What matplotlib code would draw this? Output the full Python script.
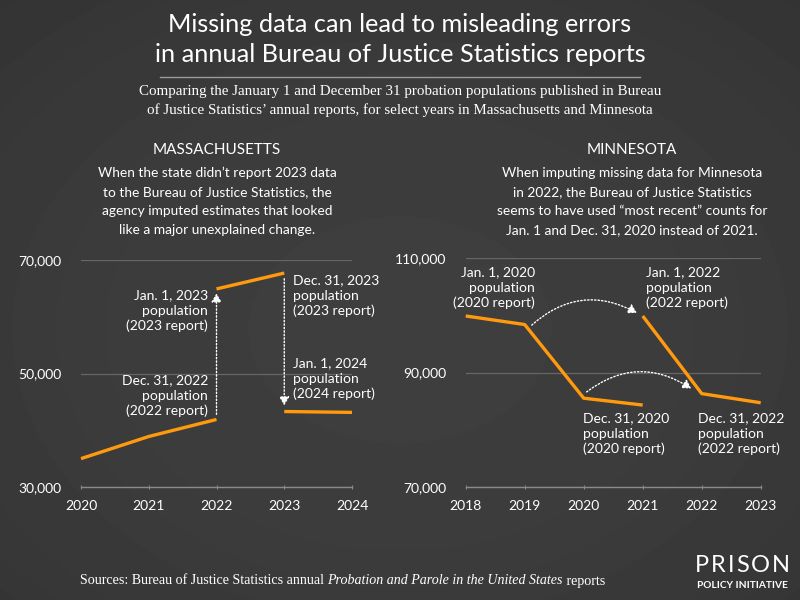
import numpy as np
import matplotlib
matplotlib.use("Agg")
import matplotlib.pyplot as plt
from matplotlib.patches import FancyArrowPatch

# ---------------- data ----------------
ma_years_a = [2020, 2021, 2022]
ma_vals_a = [35000, 38900, 41900]
ma_years_b = [2022, 2023]
ma_vals_b = [64900, 67700]
ma_years_c = [2023, 2024]
ma_vals_c = [43300, 43150]

mn_years_a = [2018, 2019, 2020, 2021]
mn_vals_a = [99900, 98400, 85500, 84300]
mn_years_b = [2021, 2022, 2023]
mn_vals_b = [99900, 86300, 84700]

ma_yticks = [30000, 50000, 70000]
mn_yticks = [70000, 90000, 110000]
ma_xticks = [2020, 2021, 2022, 2023, 2024]
mn_xticks = [2018, 2019, 2020, 2021, 2022, 2023]

ORANGE = "#FF9A0E"
FONT = "Lato"
SERIF = "Liberation Serif"
W, H = 800, 600

fig = plt.figure(figsize=(8, 6), dpi=100)

# background radial gradient
bg = fig.add_axes([0, 0, 1, 1])
yy, xx = np.mgrid[0:1:300j, 0:1:400j]
r2 = ((xx - 0.5) / 0.8) ** 2 + ((yy - 0.45) / 0.8) ** 2
shade = 0.245 - 0.05 * np.clip(r2, 0, 1)
bg.imshow(shade, cmap="gray", vmin=0, vmax=1, extent=[0, 1, 0, 1], aspect="auto", origin="lower")
bg.set_axis_off()


def px(x, y):
    return x / W, 1 - y / H


def ftext(x, y, s, **kw):
    kw.setdefault("color", "white")
    kw.setdefault("family", FONT)
    return fig.text(*px(x, y), s, **kw)


# title
ftext(400, 24, "Missing data can lead to misleading errors", ha="center", va="center", fontsize=18.2)
ftext(400, 54, "in annual Bureau of Justice Statistics reports", ha="center", va="center", fontsize=18.2)
fig.add_artist(plt.Line2D([160 / W, 640 / W], [1 - 77 / H, 1 - 77 / H], color="#9a9a9a", lw=1))
ftext(400, 92, "Comparing the January 1 and December 31 probation populations published in Bureau",
      ha="center", va="center", fontsize=10.8, family=SERIF)
ftext(400, 110, "of Justice Statistics\u2019 annual reports, for select years in Massachusetts and Minnesota",
      ha="center", va="center", fontsize=10.8, family=SERIF)

# section headers
ftext(217, 150, "MASSACHUSETTS", ha="center", va="center", fontsize=11)
ftext(632, 150, "MINNESOTA", ha="center", va="center", fontsize=11)
ma_desc = ["When the state didn\u2019t report 2023 data", "to the Bureau of Justice Statistics, the",
           "agency imputed estimates that looked", "like a major unexplained change."]
mn_desc = ["When imputing missing data for Minnesota", "in 2022, the Bureau of Justice Statistics",
           "seems to have used \u201cmost recent\u201d counts for", "Jan. 1 and Dec. 31, 2020 instead of 2021."]
for i, (a, b) in enumerate(zip(ma_desc, mn_desc)):
    ftext(217, 173 + 19 * i, a, ha="center", va="center", fontsize=9.9)
    ftext(632, 173 + 19 * i, b, ha="center", va="center", fontsize=9.9)


def style_axes(ax, xticks, yticks):
    ax.set_facecolor("none")
    for s in ["top", "right", "left"]:
        ax.spines[s].set_visible(False)
    ax.spines["bottom"].set_color("#8a8a8a")
    ax.spines["bottom"].set_linewidth(1)
    ax.set_xticks(xticks)
    ax.set_xticklabels([str(x) for x in xticks])
    ax.set_yticks(yticks)
    ax.set_yticklabels([f"{v:,}" for v in yticks])
    ax.tick_params(axis="x", colors="#8a8a8a", labelcolor="white", length=3, direction="inout",
                   pad=8, labelsize=10)
    ax.tick_params(axis="y", length=0, labelcolor="white", pad=14, labelsize=10)
    for lab in ax.get_xticklabels() + ax.get_yticklabels():
        lab.set_family(FONT)
    ax.grid(axis="y", color="#666666", lw=0.9)
    ax.set_axisbelow(True)


# Massachusetts
ax1 = fig.add_axes([81 / W, 1 - 487 / H, 271 / W, 227 / H])
ax1.set_xlim(2020, 2024)
ax1.set_ylim(30000, 70000)
style_axes(ax1, ma_xticks, ma_yticks)
for xs, ys in [(ma_years_a, ma_vals_a), (ma_years_b, ma_vals_b), (ma_years_c, ma_vals_c)]:
    ax1.plot(xs, ys, color=ORANGE, lw=2.4, solid_capstyle="butt", clip_on=False, zorder=3)

arrow_kw = dict(arrowstyle="-|>,head_length=5,head_width=3", color="white", lw=1,
                linestyle=(0, (1, 1.5)), mutation_scale=1, shrinkA=0, shrinkB=0)
ax1.add_patch(FancyArrowPatch((2022, ma_vals_a[-1] + 900), (2022, ma_vals_b[0] - 800), **arrow_kw))
ax1.add_patch(FancyArrowPatch((2023, ma_vals_b[-1] - 1000), (2023, ma_vals_c[0] + 1100), **arrow_kw))

lab_kw = dict(fontsize=10, linespacing=1.3)
ftext(208, 311, "Jan. 1, 2023\npopulation\n(2023 report)", ha="right", va="center", **lab_kw)
ftext(208, 396, "Dec. 31, 2022\npopulation\n(2022 report)", ha="right", va="center", **lab_kw)
ftext(293, 296, "Dec. 31, 2023\npopulation\n(2023 report)", ha="left", va="center", **lab_kw)
ftext(293, 379, "Jan. 1, 2024\npopulation\n(2024 report)", ha="left", va="center", **lab_kw)

# Minnesota
ax2 = fig.add_axes([465.7 / W, 1 - 486.7 / H, 295 / W, 228.4 / H])
ax2.set_xlim(2018, 2023)
ax2.set_ylim(70000, 110000)
style_axes(ax2, mn_xticks, mn_yticks)
for xs, ys in [(mn_years_a, mn_vals_a), (mn_years_b, mn_vals_b)]:
    ax2.plot(xs, ys, color=ORANGE, lw=2.4, solid_capstyle="butt", clip_on=False, zorder=3)

ax2.add_patch(FancyArrowPatch((2019.12, 98300), (2020.9, 100450),
                              connectionstyle="arc3,rad=-0.35", **arrow_kw))
ax2.add_patch(FancyArrowPatch((2020.05, 86600), (2021.82, 87200),
                              connectionstyle="arc3,rad=-0.35", **arrow_kw))

ftext(535, 288, "Jan. 1, 2020\npopulation\n(2020 report)", ha="right", va="center", **lab_kw)
ftext(646, 288, "Jan. 1, 2022\npopulation\n(2022 report)", ha="left", va="center", **lab_kw)
ftext(583, 434, "Dec. 31, 2020\npopulation\n(2020 report)", ha="left", va="center", **lab_kw)
ftext(698, 434, "Dec. 31, 2022\npopulation\n(2022 report)", ha="left", va="center", **lab_kw)

# footer
fig.canvas.draw()
renderer = fig.canvas.get_renderer()
x0 = 80
parts = [("Sources: Bureau of Justice Statistics annual ", "normal"),
         ("Probation and Parole in the United States", "italic"),
         (" reports", "normal")]
for s, st in parts:
    t = fig.text(x0 / W, 1 - 581 / H, s, color="white", family=SERIF, style=st,
                 fontsize=10.1, ha="left", va="center")
    bb = t.get_window_extent(renderer=renderer)
    x0 += bb.width

# logo: letter-spaced "PRISON" fitted between x=695 and x=790
letters = []
widths = []
for ch in "PRISON":
    t = ftext(0, 566, ch, ha="left", va="center", fontsize=17)
    letters.append(t)
    widths.append(t.get_window_extent(renderer=renderer).width)
gap = max((95 - sum(widths)) / 5, 0.5)
x0 = 695
for t, w in zip(letters, widths):
    t.set_x(x0 / W)
    x0 += w + gap
ftext(742.5, 586, "POLICY INITIATIVE", ha="center", va="center", fontsize=7.3, weight="bold")

fig.savefig("out.png", dpi=100)
